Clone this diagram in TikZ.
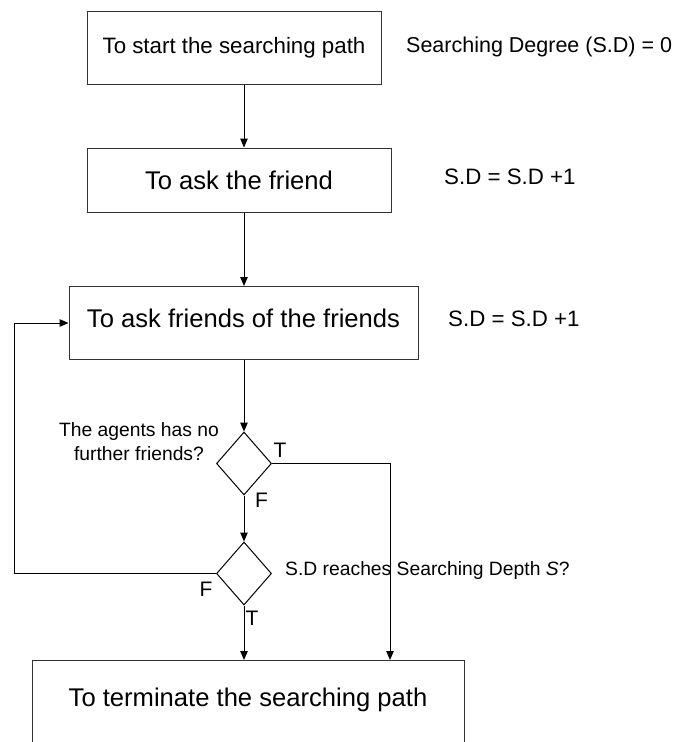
\documentclass[tikz,border=0pt]{standalone}
\usepackage{fontspec}
\setmainfont{Liberation Sans}
\usetikzlibrary{shapes.geometric,arrows.meta}
\begin{document}
\begin{tikzpicture}[x=1pt,y=-1pt,
  box/.style={draw=black!80, line width=1pt, rectangle, inner sep=0pt},
  decision/.style={draw=black, line width=1pt, diamond, inner sep=0pt,
    minimum width=55pt, minimum height=63pt},
  flow/.style={draw=black, line width=1pt, -{Triangle[length=9pt,width=7.5pt]}},
  bigtext/.style={font=\fontsize{25.6}{30}\selectfont},
  midtext/.style={font=\fontsize{22.3}{27}\selectfont},
  smalltext/.style={font=\fontsize{19.3}{23.2}\selectfont},
  branch/.style={font=\fontsize{21}{25}\selectfont, inner sep=0pt},
  note/.style={anchor=west, inner sep=0pt}
]
\useasboundingbox (0,0) rectangle (687,742);

% process boxes
\node[box, midtext, minimum width=294pt, minimum height=73pt] (start) at (234,47.5)
  {To start the searching path};
\node[box, bigtext, minimum width=304pt, minimum height=64pt] (ask) at (239,180)
  {To ask the friend};
\node[box, bigtext, minimum width=349pt, text height=41.3pt, text depth=31.7pt,
  anchor=north] (askff) at (243.5,286) {To ask friends of the friends};
\node[box, bigtext, minimum width=432pt, text height=46.2pt, text depth=80pt,
  anchor=north] (stop) at (248,660) {To terminate the searching path};

% decisions
\node[decision] (nofriends) at (244,463.5) {};
\node[decision] (depth) at (244,573.5) {};

% side notes
\node[note, font=\fontsize{21.5}{26}\selectfont] (sd0) at (406,47)
  {Searching Degree (S.D) = 0};
\node[note, midtext] (inc1) at (444,177) {S.D = S.D +1};
\node[note, midtext] (inc2) at (448,319) {S.D = S.D +1};
\node[smalltext, align=center, inner sep=0pt] (q1) at (139,441.5)
  {The agents has no\\further friends?};
\node[note, smalltext] (q2) at (285,571) {S.D reaches Searching Depth \textit{S}?};

% branch labels
\node[branch] (t1) at (280,450) {T};
\node[branch] (f1) at (261.5,500) {F};
\node[branch] (f2) at (206,589) {F};
\node[branch] (t2) at (252,618) {T};

% connectors
\draw[flow] (start.south -| nofriends) -- (ask.north -| nofriends);
\draw[flow] (ask.south -| nofriends) -- (askff.north -| nofriends);
\draw[flow] (askff.south -| nofriends) -- (nofriends.north);
\draw[flow] (nofriends.south) -- (depth.north);
\draw[flow] (depth.south) -- (stop.north -| depth);
\coordinate (tcorner) at (390,463.5);
\draw[flow] (nofriends.east) -- (tcorner) -- (stop.north -| tcorner);
\coordinate (loopcorner) at (14,573.5);
\draw[flow] (depth.west) -- (loopcorner) |- (askff.west);
\end{tikzpicture}
\end{document}
